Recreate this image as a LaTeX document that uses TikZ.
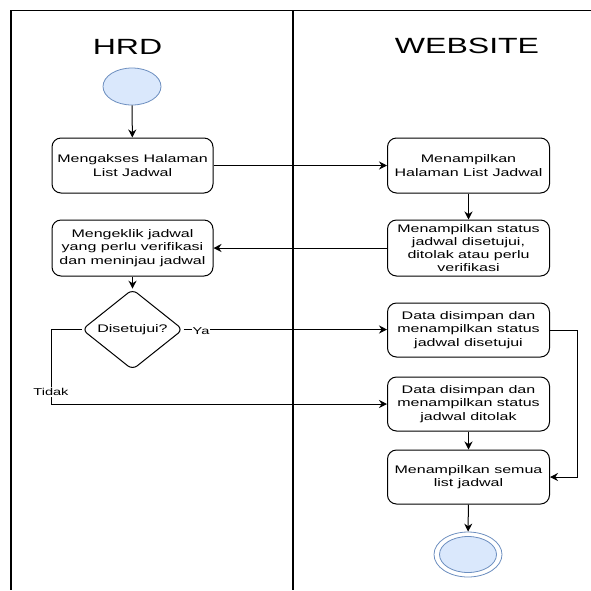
\documentclass[tikz,border=0pt]{standalone}
\usepackage{fontspec}
\setmainfont{Liberation Sans}[FakeStretch=1.456]
\usetikzlibrary{shapes.geometric,arrows.meta}
\definecolor{startfill}{HTML}{DAE8FC}
\definecolor{startline}{HTML}{6C8EBF}
\begin{document}
\begin{tikzpicture}[x=1pt,y=-1pt,
  lane/.style={line width=1.4pt},
  title/.style={font=\fontsize{22}{26}\selectfont, inner sep=0pt},
  act/.style={draw, line width=1pt, rectangle, rounded corners=9pt,
    minimum width=162pt, minimum height=55pt, inner sep=0pt,
    align=center, font=\fontsize{11}{13.2}\selectfont},
  choice/.style={draw, line width=1pt, diamond, rounded corners=6pt,
    minimum width=101pt, minimum height=67pt, inner sep=0pt,
    font=\fontsize{11}{13.2}\selectfont},
  startnode/.style={ellipse, draw=startline, fill=startfill, line width=0.8pt,
    minimum width=58pt, minimum height=37pt, inner sep=0pt},
  flow/.style={line width=1pt, -{Stealth[length=8pt,width=8pt]}},
  lbl/.style={fill=white, inner sep=1pt, font=\fontsize{10}{12}\selectfont}]
  \useasboundingbox (0,0) rectangle (591,590);

  % swimlane frame
  \draw[lane] (591,10.7) -- (11,10.7) -- (11,590);
  \draw[lane] (293,10.7) -- (293,590);
  \node[title] (hrd) at (127.5,47) {HRD};
  \node[title] (web) at (467,46) {WEBSITE};

  % activity nodes
  \node[startnode] (start) at (132,86.5) {};
  \node[act, minimum width=161pt] (h1) at (132.5,165.5) {Mengakses Halaman\\List Jadwal};
  \node[act] (w1) at (468.5,165.5) {Menampilkan\\Halaman List Jadwal};
  \node[act, minimum height=56pt] (w2) at (468.5,248) {Menampilkan status\\jadwal disetujui,\\ditolak atau perlu\\verifikasi};
  \node[act, minimum width=161pt, minimum height=56pt] (h2) at (132.5,248) {Mengeklik jadwal\\yang perlu verifikasi\\dan meninjau jadwal};
  \node[choice] (d) at (132.5,329.5) {Disetujui?};
  \node[act, minimum height=54pt] (w3) at (468.5,330) {Data disimpan dan\\menampilkan status\\jadwal disetujui};
  \node[act, minimum height=54pt] (w4) at (468.5,404) {Data disimpan dan\\menampilkan status\\jadwal ditolak};
  \node[act, minimum height=54pt] (w5) at (468.5,477) {Menampilkan semua\\list jadwal};
  \node[ellipse, draw=startline, line width=0.8pt, minimum width=68pt, minimum height=45pt, inner sep=0pt] (endo) at (468,554.5) {};
  \node[ellipse, draw=startline, fill=startfill, line width=0.8pt, minimum width=57pt, minimum height=36pt, inner sep=0pt] (endi) at (468,554.5) {};

  % bend points of the routed connectors
  \coordinate (leftx) at (51,0);
  \coordinate (rightx) at (577,0);

  % connectors
  \draw[flow] (start) -- (h1);
  \draw[flow] (h1.east) -- (h1.east -| w1.west);
  \draw[flow] (w1) -- (w2);
  \draw[flow] (w2.west) -- (w2.west -| h2.east);
  \draw[flow] (h2) -- (d);
  \draw[flow] (d.east) -- (d.east -| w3.west);
  \draw[flow] (d.west) -| (leftx |- w4.west) -- (w4.west);
  \draw[flow] (w3.east) -| (rightx |- w5.east) -- (w5.east);
  \draw[flow] (w4) -- (w5);
  \draw[flow] (w5) -- (endo);

  % branch labels
  \node[lbl] (ya) at (201,331) {Ya};
  \node[lbl] (tidak) at (51,392) {Tidak};
\end{tikzpicture}
\end{document}
